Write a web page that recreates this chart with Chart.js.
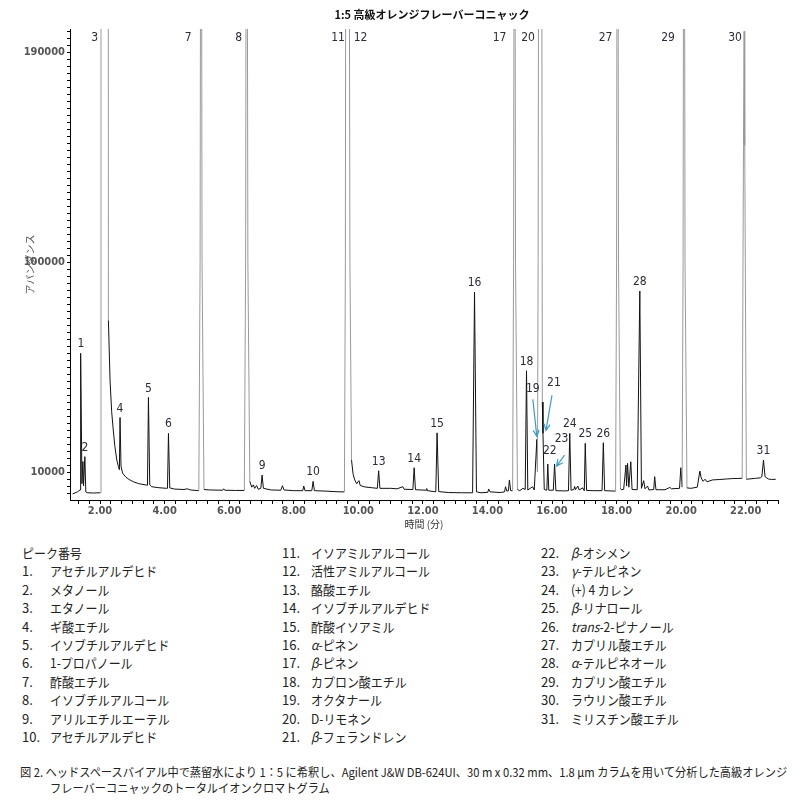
<!DOCTYPE html>
<html lang="ja">
<head>
<meta charset="utf-8">
<title>1:5 高級オレンジフレーバーコニャック</title>
<script src="https://cdn.jsdelivr.net/npm/chart.js@4.4.1/dist/chart.umd.min.js"></script>
<style>
  body { margin: 0; background: #fff; }
  #wrap { position: relative; width: 804px; height: 801px; overflow: hidden;
          font-family: "Liberation Sans Narrow", "Noto Sans CJK JP", sans-serif; color: #222; }
  #tic { position: absolute; left: 0; top: 0; }
  #title { position: absolute; left: 232px; top: 7px; width: 400px; text-align: center;
           font: bold 11px/14px "Liberation Sans Narrow", "Noto Sans CJK JP", sans-serif; color: #111; }
  .row { position: absolute; font-size: 13px; line-height: 18px; white-space: nowrap; transform-origin: 0 50%; }
  .name { transform: scaleX(0.92); }
  .cap { position: absolute; font-size: 12px; line-height: 16px; white-space: nowrap; transform-origin: 0 50%; }
</style>
</head>
<body>
<div id="wrap">
  <canvas id="tic" width="804" height="535"></canvas>
  <div id="title">1:5 高級オレンジフレーバーコニャック</div>
  <div id="legend"></div>
  <div class="cap" id="cap1" style="left:20px; top:764px">図 2. ヘッドスペースバイアル中で蒸留水により 1：5 に希釈し、Agilent J&amp;W DB-624UI、30 m x 0.32 mm、1.8 µm カラムを用いて分析した高級オレンジ</div>
  <div class="cap" id="cap2" style="left:50px; top:780px">フレーバーコニャックのトータルイオンクロマトグラム</div>
</div>
<script>
// ---- data: [time (min), abundance] ----
const tic = [
  [1.15, 600], [1.30, 1500], [1.38, 2300], [1.39, 2600], [1.41, 60900], [1.44, 5000],
  [1.47, 14500], [1.49, 4000], [1.53, 16600], [1.56, 1500], [1.60, 1100], [1.80, 1000], [2.01, 1100],
  [2.03, 900000], [2.24, 900000], [2.26, 75000], [2.31, 49400], [2.36, 36000], [2.41, 28000],
  [2.46, 21000], [2.52, 15100], [2.57, 12300], [2.60, 11000],
  [2.62, 33400], [2.65, 12500], [2.70, 9500], [2.80, 7800], [2.90, 6800], [3.03, 5850], [3.20, 5000], [3.44, 4400],
  [3.47, 4300], [3.50, 42000], [3.54, 4500], [3.60, 3700], [3.80, 3300], [4.06, 3000],
  [4.09, 3000], [4.12, 26600], [4.16, 3200], [4.30, 2700], [4.60, 2500], [4.70, 2800], [4.80, 2300], [5.06, 2000],
  [5.10, 100000], [5.13, 400000], [5.16, 100000], [5.22, 2500], [5.40, 2300], [5.80, 2200], [5.83, 2800],
  [5.86, 2200], [6.20, 2100], [6.47, 2100],
  [6.51, 100000], [6.54, 400000], [6.58, 100000], [6.64, 6000], [6.70, 3500], [6.75, 4500], [6.79, 3000],
  [6.85, 4200], [6.90, 2600], [6.98, 3000], [7.02, 8700], [7.06, 3000], [7.30, 2300], [7.60, 2200],
  [7.65, 4100], [7.70, 2300], [8.00, 2000], [8.28, 2000], [8.31, 4000], [8.35, 2000], [8.56, 2000],
  [8.60, 6000], [8.64, 2000], [9.00, 1800], [9.40, 1500], [9.57, 1500],
  [9.60, 100000], [9.62, 400000], [9.66, 300000], [9.70, 400000], [9.74, 100000], [9.79, 15100],
  [9.84, 9000], [9.89, 6600], [9.95, 5000], [10.02, 6300], [10.06, 4200], [10.20, 3600], [10.40, 3300],
  [10.59, 3000], [10.63, 10550], [10.67, 3000], [11.00, 3000], [11.20, 2800], [11.38, 3700], [11.42, 2600],
  [11.69, 2500], [11.73, 11850], [11.77, 2400], [12.10, 2200], [12.12, 2900], [12.14, 2000], [12.40, 1500],
  [12.44, 26800], [12.49, 1600], [12.80, 1200], [13.20, 1100], [13.54, 1100],
  [13.60, 87150], [13.66, 1500], [13.80, 1100], [14.01, 1300], [14.04, 2700], [14.08, 1500], [14.40, 1200],
  [14.53, 1500], [14.56, 3700], [14.60, 1800], [14.65, 2000], [14.68, 6600], [14.72, 2000], [14.78, 2000],
  [14.81, 100000], [14.84, 400000], [14.87, 100000], [14.93, 2500], [15.00, 2000], [15.10, 3000],
  [15.17, 2500], [15.21, 53400], [15.25, 2300], [15.40, 3700], [15.45, 2300], [15.53, 24000], [15.55, 10000],
  [15.57, 100000], [15.60, 400000], [15.64, 300000], [15.67, 400000], [15.70, 40000], [15.72, 26600],
  [15.76, 2500], [15.84, 2200], [15.87, 13400], [15.90, 2200], [16.04, 2200], [16.08, 13400], [16.12, 2000],
  [16.40, 1900], [16.51, 2000], [16.55, 26600], [16.59, 2200], [16.68, 2500], [16.70, 3800], [16.73, 2500],
  [16.80, 4000], [16.84, 2300], [16.95, 3200], [17.00, 2000], [17.03, 22300], [17.07, 2100], [17.30, 2000],
  [17.55, 2000], [17.59, 22560], [17.63, 2000], [17.97, 1800],
  [18.00, 100000], [18.03, 400000], [18.06, 100000], [18.12, 3000], [18.15, 2400], [18.22, 2600],
  [18.29, 13000], [18.31, 4000], [18.34, 13700], [18.38, 3500], [18.44, 14400], [18.48, 2500], [18.64, 2400],
  [18.72, 87600], [18.77, 3000], [18.84, 6300], [18.88, 2800], [18.96, 4000], [19.00, 2300], [19.15, 2500],
  [19.18, 8000], [19.22, 2400], [19.50, 2400], [19.65, 3400], [19.70, 2800], [19.95, 3000], [19.99, 11850],
  [20.03, 3500],
  [20.06, 100000], [20.09, 400000], [20.12, 100000], [20.18, 3200], [20.30, 3000], [20.50, 3500],
  [20.58, 10400], [20.62, 7500], [20.68, 6000], [20.74, 6900], [20.80, 5800], [20.97, 6600], [21.20, 6800],
  [21.40, 7000], [21.60, 7200], [21.89, 7300],
  [21.93, 150000], [21.95, 199000], [21.97, 150000], [22.02, 6900], [22.10, 7000], [22.30, 7300],
  [22.45, 7500], [22.50, 8000], [22.55, 15100], [22.60, 8000], [22.70, 7000], [22.80, 6800], [22.93, 6900]
];

// peak numbers, retention times and apex heights (null = off scale)
const peakIds = [1, 2, 3, 4, 5, 6, 7, 8, 9, 10, 11, 12, 13, 14, 15, 16, 17, 18, 19, 20, 21, 22, 23, 24, 25, 26, 27, 28, 29, 30, 31];
const peakRt  = [1.41, 1.53, 2.02, 2.62, 3.50, 4.12, 5.13, 6.54, 7.02, 8.60, 9.62, 9.70, 10.63, 11.73, 12.44, 13.60,
                 14.84, 15.21, 15.53, 15.60, 15.72, 15.87, 16.08, 16.55, 17.03, 17.59, 18.03, 18.72, 20.09, 21.95, 22.55];
const peakTop = [60900, 16600, null, 33400, 42000, 26600, null, null, 8700, 6000, null, null, 10550, 11850, 26800, 87150,
                 null, 53400, 24000, null, 26600, 13400, 13400, 26600, 22300, 22560, null, 87600, null, null, 15100];

const compoundNames = [
  'アセチルアルデヒド', 'メタノール', 'エタノール', 'ギ酸エチル', 'イソブチルアルデヒド', '1-プロパノール',
  '酢酸エチル', 'イソブチルアルコール', 'アリルエチルエーテル', 'アセチルアルデヒド', 'イソアミルアルコール',
  '活性アミルアルコール', '酪酸エチル', 'イソブチルアルデヒド', '酢酸イソアミル', 'α-ピネン', 'β-ピネン',
  'カプロン酸エチル', 'オクタナール', 'D-リモネン', 'β-フェランドレン', 'β-オシメン', 'γ-テルピネン',
  '(+) 4 カレン', 'β-リナロール', 'trans-2-ピナノール', 'カプリル酸エチル', 'α-テルピネオール',
  'カプリン酸エチル', 'ラウリン酸エチル', 'ミリスチン酸エチル'
];

const yTickLabels = [10000, 100000, 190000];
const xTickLabels = [2, 4, 6, 8, 10, 12, 14, 16, 18, 20, 22];

// ---- legend (peak list) ----
const legend = document.getElementById('legend');
const ROW0 = 544, ROWH = 18.4;
function addRow(x, row, html, cls) {
  const d = document.createElement('div');
  d.className = 'row' + (cls ? ' ' + cls : '');
  d.style.left = x + 'px';
  d.style.top = (ROW0 + row * ROWH) + 'px';
  d.innerHTML = html;
  legend.appendChild(d);
}
addRow(22, 0, 'ピーク番号', 'name');
compoundNames.forEach((name, i) => {
  const n = i + 1;
  const col = n <= 10 ? 0 : n <= 21 ? 1 : 2;
  const row = col === 0 ? n : col === 1 ? n - 11 : n - 22;
  addRow([22, 282, 541][col], row, n + '.');
  addRow([50, 311, 571][col], row, name.replace(/^([αβγ]|trans)/, '<i>$1</i>'), 'name');
});

// squeeze the caption to the width it has in the figure
const cap1 = document.getElementById('cap1');
const capScale = Math.min(1, 767 / cap1.offsetWidth);
cap1.style.transform = 'scaleX(' + capScale + ')';
document.getElementById('cap2').style.transform = 'scaleX(' + capScale + ')';

// ---- peak labels and arrows ----
const TEXT = '#2b2b3a';
const ARROW = '#3d9cc8';
const offDx = { 3: -6, 7: -13, 8: -8, 11: -8, 12: 12, 17: -15, 20: -11, 27: -12, 29: -16, 30: -9 };
const special = {
  19: { lx: -4, ly: -51, a: [-4, -40, 0, -3] },
  21: { lx: 11, ly: -50, a: [9, -38, 3, -3] },
  22: { lx: 2, ly: -13 },
  23: { lx: 7, ly: -25, a: [10, -9, 2, 2] }
};

function arrow(ctx, x0, y0, x1, y1) {
  const ang = Math.atan2(y1 - y0, x1 - x0);
  ctx.beginPath();
  ctx.moveTo(x0, y0);
  ctx.lineTo(x1, y1);
  ctx.moveTo(x1 - 7 * Math.cos(ang - 0.45), y1 - 7 * Math.sin(ang - 0.45));
  ctx.lineTo(x1, y1);
  ctx.lineTo(x1 - 7 * Math.cos(ang + 0.45), y1 - 7 * Math.sin(ang + 0.45));
  ctx.stroke();
}

const peakLabels = {
  id: 'peakLabels',
  afterDatasetsDraw(chart) {
    const { ctx, chartArea, scales: { x, y } } = chart;
    ctx.save();
    ctx.font = '12px "Liberation Sans Narrow", "DejaVu Sans Condensed", sans-serif';
    ctx.fillStyle = TEXT;
    ctx.textAlign = 'center';
    ctx.textBaseline = 'middle';
    ctx.strokeStyle = ARROW;
    ctx.lineWidth = 1.2;
    peakIds.forEach((id, i) => {
      const px = x.getPixelForValue(peakRt[i]);
      if (peakTop[i] === null) {
        ctx.fillText(String(id), px + (offDx[id] || -10), chartArea.top + 9);
        return;
      }
      const py = y.getPixelForValue(peakTop[i]);
      const s = special[id];
      if (s) {
        ctx.fillText(String(id), px + s.lx, py + s.ly);
        if (s.a) arrow(ctx, px + s.a[0], py + s.a[1], px + s.a[2], py + s.a[3]);
      } else {
        ctx.fillText(String(id), px, py - 9);
      }
    });
    ctx.restore();
  }
};

// ---- chart ----
const TICK_FONT = { family: '"Liberation Sans Narrow", "DejaVu Sans Condensed", sans-serif', size: 11, weight: 'bold' };
const TITLE_FONT = { family: '"Noto Sans CJK JP", sans-serif', size: 10 };

new Chart(document.getElementById('tic'), {
  type: 'line',
  data: {
    datasets: [{
      data: tic.map(p => ({ x: p[0], y: p[1] })),
      borderWidth: 1,
      pointRadius: 0,
      tension: 0,
      borderColor: '#111',
      segment: {
        borderColor: c => (c.p0.parsed.y >= 90000 || c.p1.parsed.y >= 90000) ? '#9a9a9a' : '#111'
      }
    }]
  },
  options: {
    responsive: false,
    animation: false,
    events: [],
    layout: { padding: { top: 29, right: 26, left: 0, bottom: 0 } },
    plugins: { legend: { display: false }, tooltip: { enabled: false }, title: { display: false } },
    scales: {
      x: {
        type: 'linear',
        min: 1.07,
        max: 23.0,
        afterFit: s => { s.height = 35; },
        afterBuildTicks: s => {
          const t = [];
          for (let k = 4; k <= 69; k++) t.push({ value: k / 3 });
          s.ticks = t;
        },
        ticks: {
          autoSkip: false,
          maxRotation: 0,
          padding: 1,
          color: '#555',
          font: TICK_FONT,
          callback: v => {
            const r = Math.round(v);
            return (Math.abs(v - r) < 1e-6 && xTickLabels.includes(r)) ? r.toFixed(2) : '';
          }
        },
        grid: { drawOnChartArea: false, drawTicks: true, tickLength: 4, color: '#000' },
        border: { display: true, color: '#000', width: 1 },
        title: { display: true, text: '時間 (分)', color: '#333', font: TITLE_FONT, padding: { top: 0, bottom: 5 } }
      },
      y: {
        min: -2000,
        max: 200000,
        afterFit: s => { s.width = 70; },
        afterBuildTicks: s => {
          const t = [];
          for (let v = 1000; v <= 199000; v += 3000) t.push({ value: v });
          s.ticks = t;
        },
        ticks: {
          autoSkip: false,
          padding: 2,
          color: '#555',
          font: TICK_FONT,
          callback: v => yTickLabels.includes(v) ? String(v) : ''
        },
        grid: { drawOnChartArea: false, drawTicks: true, tickLength: 3, color: '#000' },
        border: { display: true, color: '#000', width: 1 },
        title: { display: true, text: 'アバンダンス', color: '#555', font: TITLE_FONT, padding: { top: 24, bottom: 0 } }
      }
    }
  },
  plugins: [peakLabels]
});
</script>
</body>
</html>
